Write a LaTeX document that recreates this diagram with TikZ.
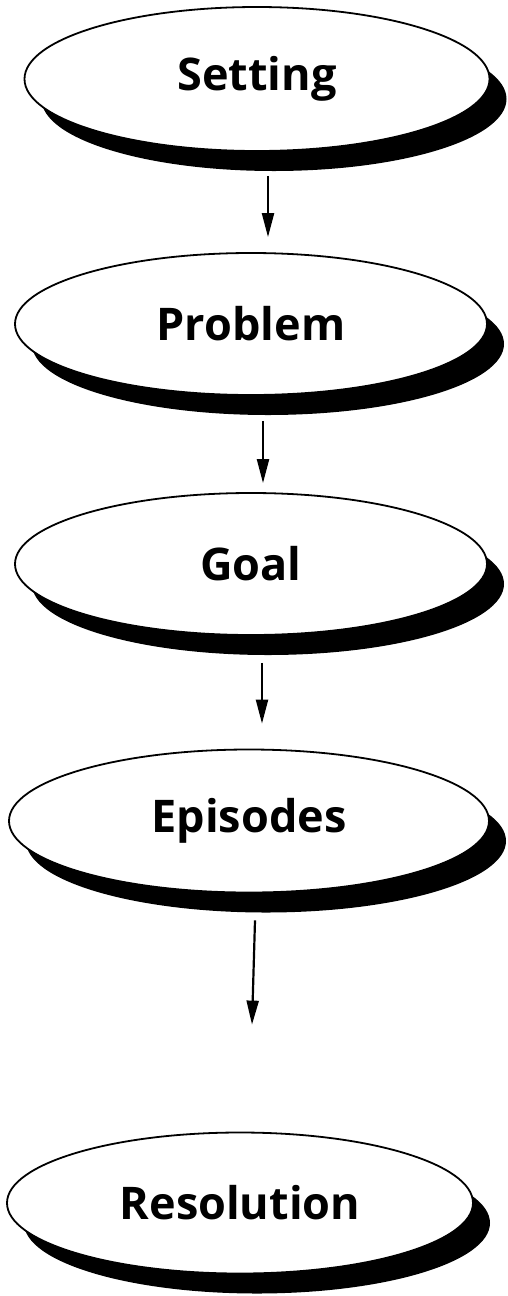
\documentclass[tikz,border=0pt]{standalone}
\usepackage{fontspec}
\newfontfamily\lblfont{Open Sans}
\usetikzlibrary{shapes.geometric,shadows,calc,arrows.meta}
\begin{document}
\begin{tikzpicture}[x=1pt,y=-1pt,
  stage/.style={ellipse, draw=black, line width=1.8pt, fill=white, inner sep=0pt,
    drop shadow={shadow xshift=17pt, shadow yshift=-20pt, fill=black, opacity=1},
    font=\lblfont\bfseries\fontsize{45}{50}\selectfont},
  arr/.style={line width=2.2pt, -{Triangle[length=24pt,width=12pt]}}]
\useasboundingbox (0,0) rectangle (508,1296);
\node[stage, minimum width=465pt, minimum height=144pt] (s) at (257,79) {Setting};
\node[stage, minimum width=472pt, minimum height=142pt] (p) at (251,324) {Problem};
\node[stage, minimum width=472pt, minimum height=142pt] (g) at (251,564) {Goal};
\node[stage, minimum width=480pt, minimum height=143pt] (e) at (249,821) {Episodes};
\node[stage, minimum width=466pt, minimum height=141pt] (r) at (240,1203) {Resolution};
\draw[arr] ($(s.south)+(11,24)$) -- ($(p.north)+(17,-15)$);
\draw[arr] ($(p.south)+(12,25)$) -- ($(g.north)+(12,-9)$);
\draw[arr] ($(g.south)+(11,27)$) -- ($(e.north)+(13,-25)$);
\draw[arr] ($(e.south)+(6,27)$) -- ($(r.north)+(12,-107)$);
\end{tikzpicture}
\end{document}
